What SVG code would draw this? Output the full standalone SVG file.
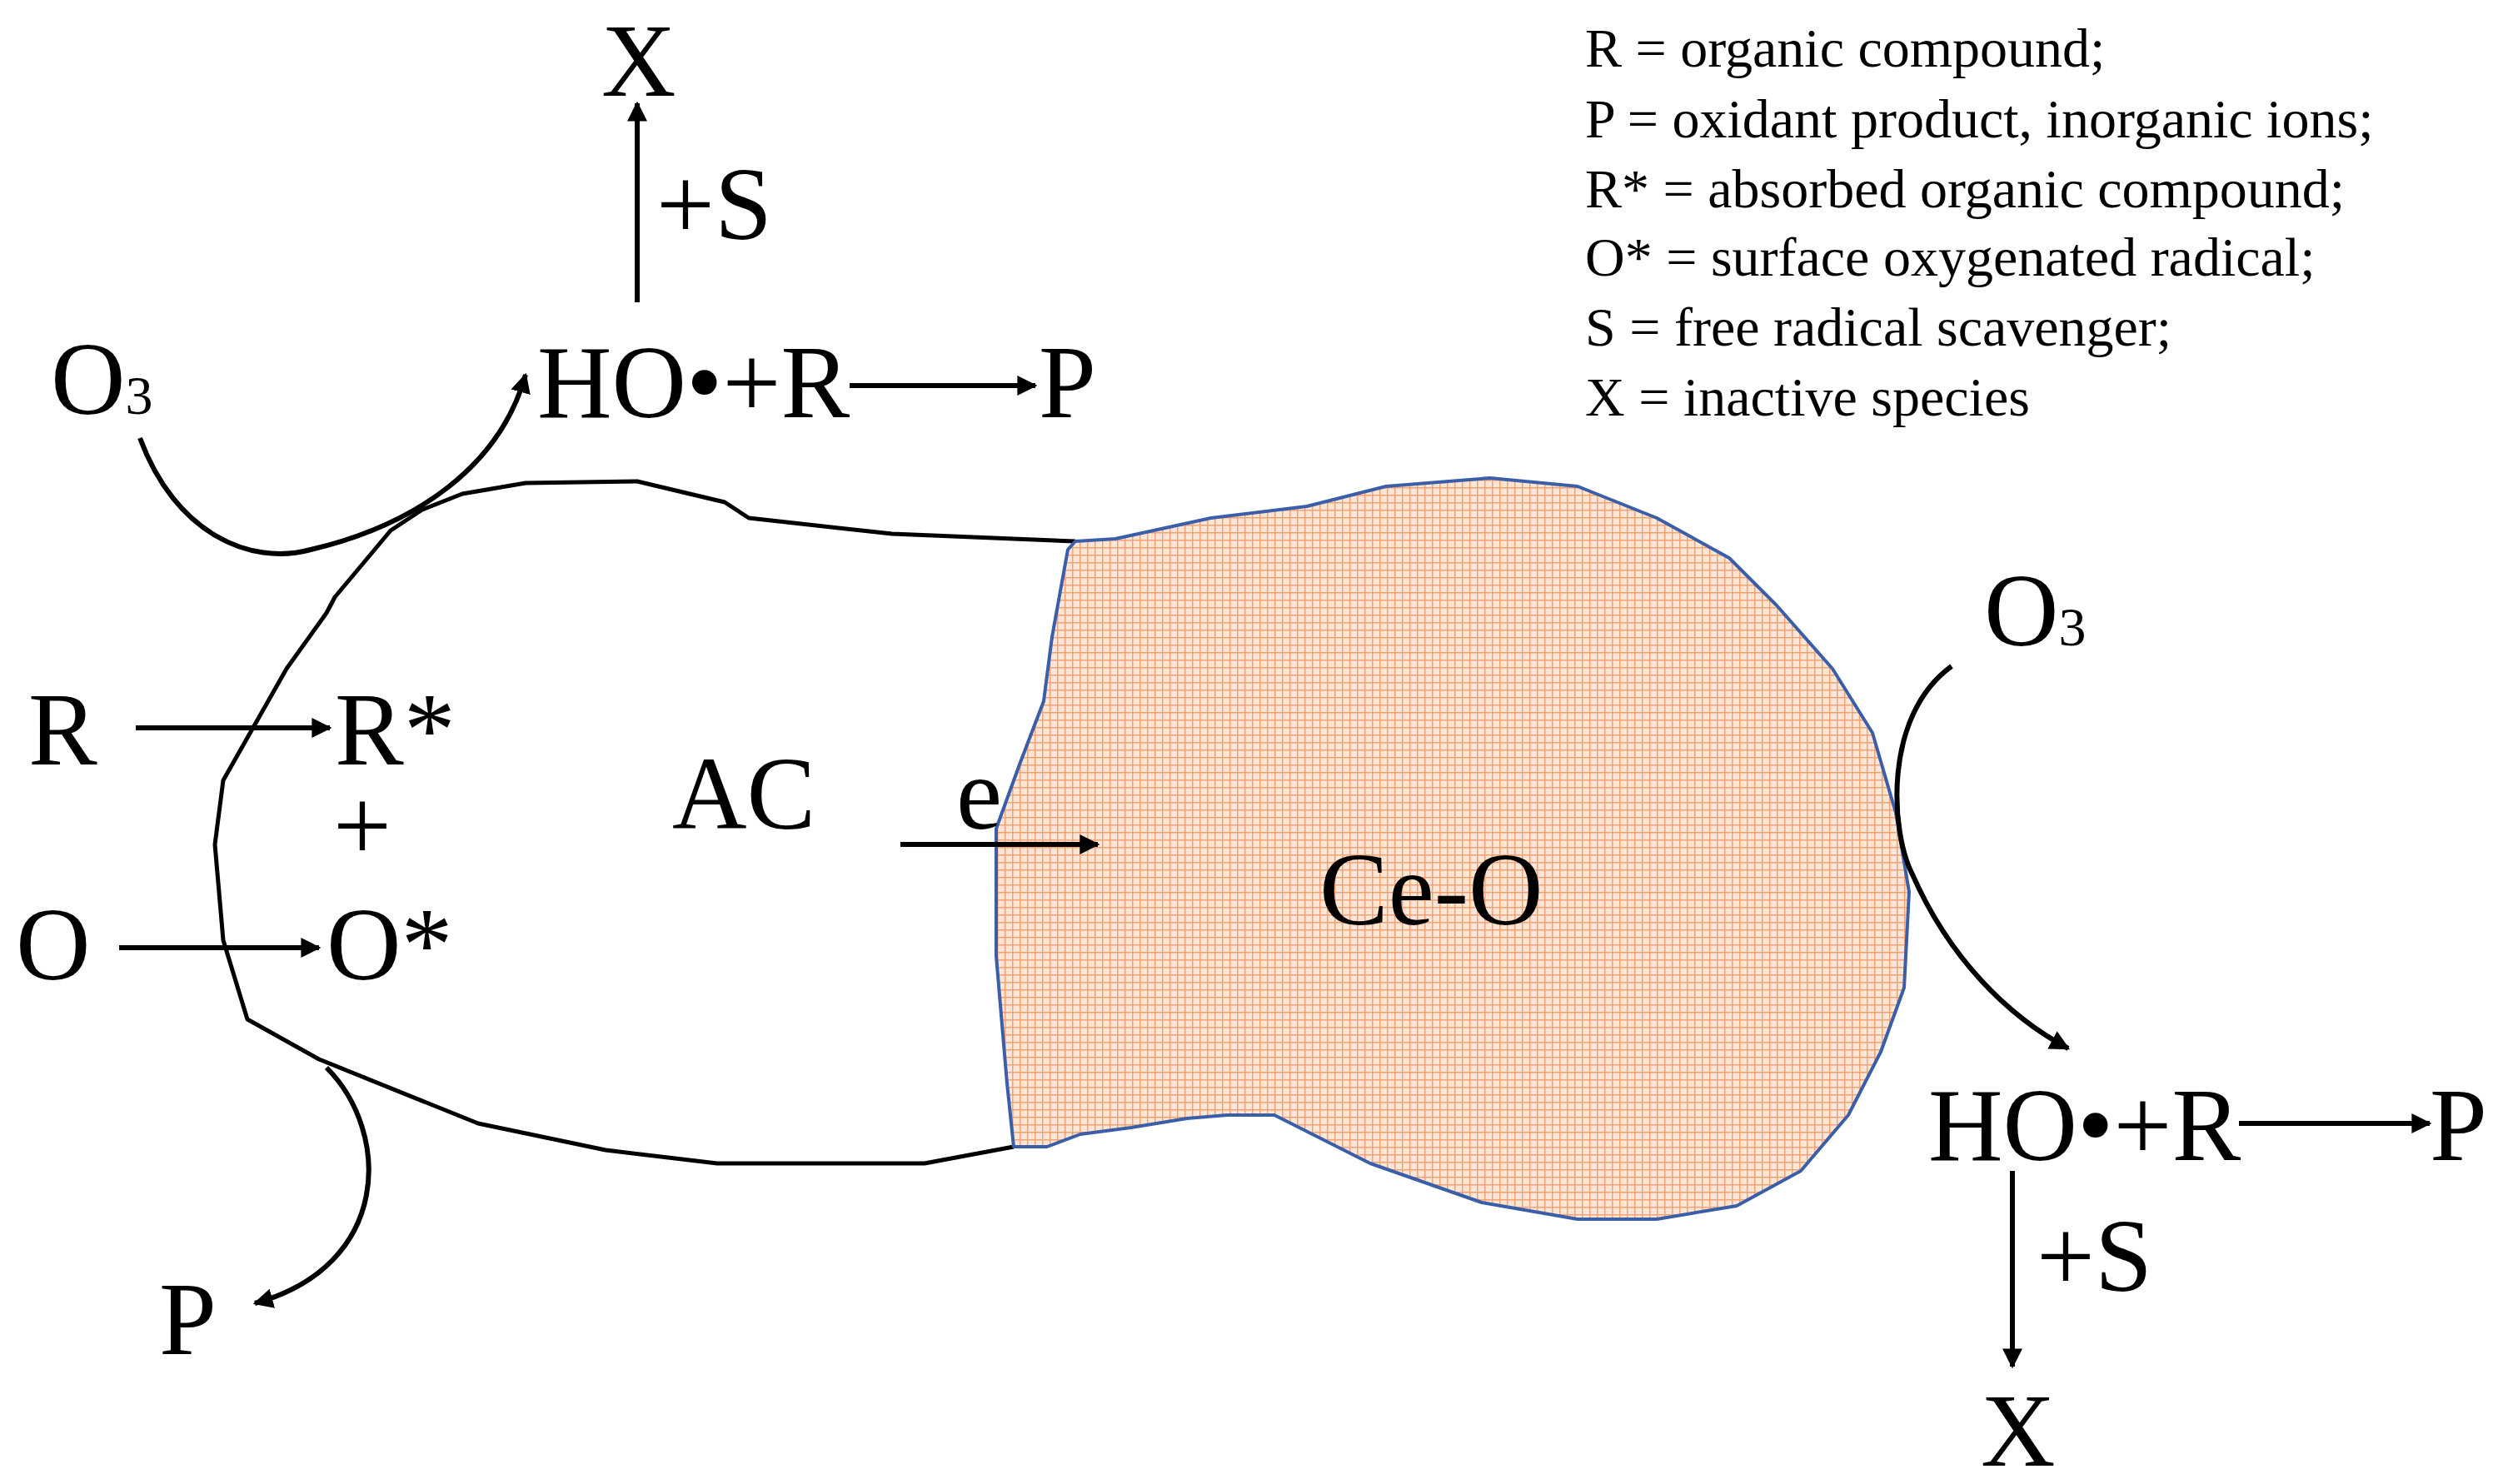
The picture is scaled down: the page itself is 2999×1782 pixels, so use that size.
<svg xmlns="http://www.w3.org/2000/svg" width="2999" height="1782" viewBox="0 0 2999 1782">
<style>
text{font-family:'Liberation Serif','Times New Roman','DejaVu Serif',serif;fill:#000}
.b{font-size:124px}
.l{font-size:66px}
.c{fill:none;stroke:#000;stroke-width:6}
</style>
<defs>
<marker id="ah" viewBox="0 0 10 10" refX="9" refY="5" markerWidth="4" markerHeight="4" orient="auto" markerUnits="strokeWidth"><path d="M0,0 L10,5 L0,10 z" fill="#000"/></marker>
<pattern id="grid" width="9" height="9" patternUnits="userSpaceOnUse"><rect width="9" height="9" fill="#fde6d6"/><path d="M0,0.5 H9 M0.5,0 V9" stroke="#f4a274" stroke-width="2"/></pattern>
</defs>
<rect width="2999" height="1782" fill="#fff"/>
<g id="AC">
<path d="M1291,650 L1071,641 L899,622 L870,603 L765,578 L631,580 L555,593 L507,612 L469,637 L402,717 L392,736 L344,803 L268,937 L258,1014 L268,1129 L297,1224 L383,1272 L574,1349 L727,1381 L861,1397 L1110,1397 L1217,1377" fill="none" stroke="#000" stroke-width="5" stroke-linejoin="round"/>
<text class="b" x="807" y="995">AC</text>
</g>
<g id="CeO">
<path d="M1291,650 L1339,647 L1454,622 L1569,608 L1664,584 L1789,574 L1894,584 L1989,622 L2076,670 L2133,727 L2200,803 L2248,880 L2276,976 L2292,1071 L2286,1186 L2258,1263 L2219,1339 L2162,1406 L2085,1448 L1989,1464 L1894,1464 L1779,1444 L1645,1397 L1530,1339 L1473,1339 L1425,1343 L1358,1354 L1297,1362 L1257,1377 L1217,1377 L1209,1301 L1196,1148 L1196,995 L1224,918 L1253,842 L1263,765 L1282,660 Z" fill="url(#grid)" stroke="#3b5ea8" stroke-width="4" stroke-linejoin="round"/>
<text class="b" x="1584" y="1110">Ce-O</text>
</g>
<g id="labels">
<text class="b" x="722" y="115">X</text>
<text class="b" x="788" y="287">+S</text>
<text class="b" x="61" y="497">O<tspan font-size="66">3</tspan></text>
<text class="b" x="645" y="501">HO•+R</text>
<text class="b" x="1247" y="501">P</text>
<text class="b" x="1148" y="995">e</text>
<text class="b" x="34" y="918">R</text>
<text class="b" x="402" y="918">R*</text>
<text class="b" x="400" y="1033">+</text>
<text class="b" x="19" y="1176">O</text>
<text class="b" x="392" y="1176">O*</text>
<text class="b" x="191" y="1626">P</text>
<text class="b" x="2382" y="775">O<tspan font-size="66">3</tspan></text>
<text class="b" x="2315" y="1393">HO•+R</text>
<text class="b" x="2917" y="1393">P</text>
<text class="b" x="2445" y="1550">+S</text>
<text class="b" x="2378" y="1760">X</text>
</g>
<g id="legend">
<text class="l" x="1903" y="80">R = organic compound;</text>
<text class="l" x="1903" y="165">P = oxidant product, inorganic ions;</text>
<text class="l" x="1903" y="249">R* = absorbed organic compound;</text>
<text class="l" x="1903" y="331">O* = surface oxygenated radical;</text>
<text class="l" x="1903" y="415">S = free radical scavenger;</text>
<text class="l" x="1903" y="499">X = inactive species</text>
</g>
<g id="connectors">
<path class="c" d="M765,363 V124" marker-end="url(#ah)"/>
<path class="c" d="M1020,463 H1243" marker-end="url(#ah)"/>
<path class="c" d="M168,526 C210,640 300,680 373,660 C500,630 600,560 631,450" marker-end="url(#ah)"/>
<path class="c" d="M1081,1014 H1318" marker-end="url(#ah)"/>
<path class="c" d="M163,874 H396" marker-end="url(#ah)"/>
<path class="c" d="M143,1138 H383" marker-end="url(#ah)"/>
<path class="c" d="M392,1282 C470,1360 470,1520 306,1565" marker-end="url(#ah)"/>
<path class="c" d="M2343,800 C2260,860 2270,1000 2296,1050 C2340,1150 2410,1220 2483,1259" marker-end="url(#ah)"/>
<path class="c" d="M2688,1349 H2917" marker-end="url(#ah)"/>
<path class="c" d="M2416,1406 V1641" marker-end="url(#ah)"/>
</g>
</svg>
